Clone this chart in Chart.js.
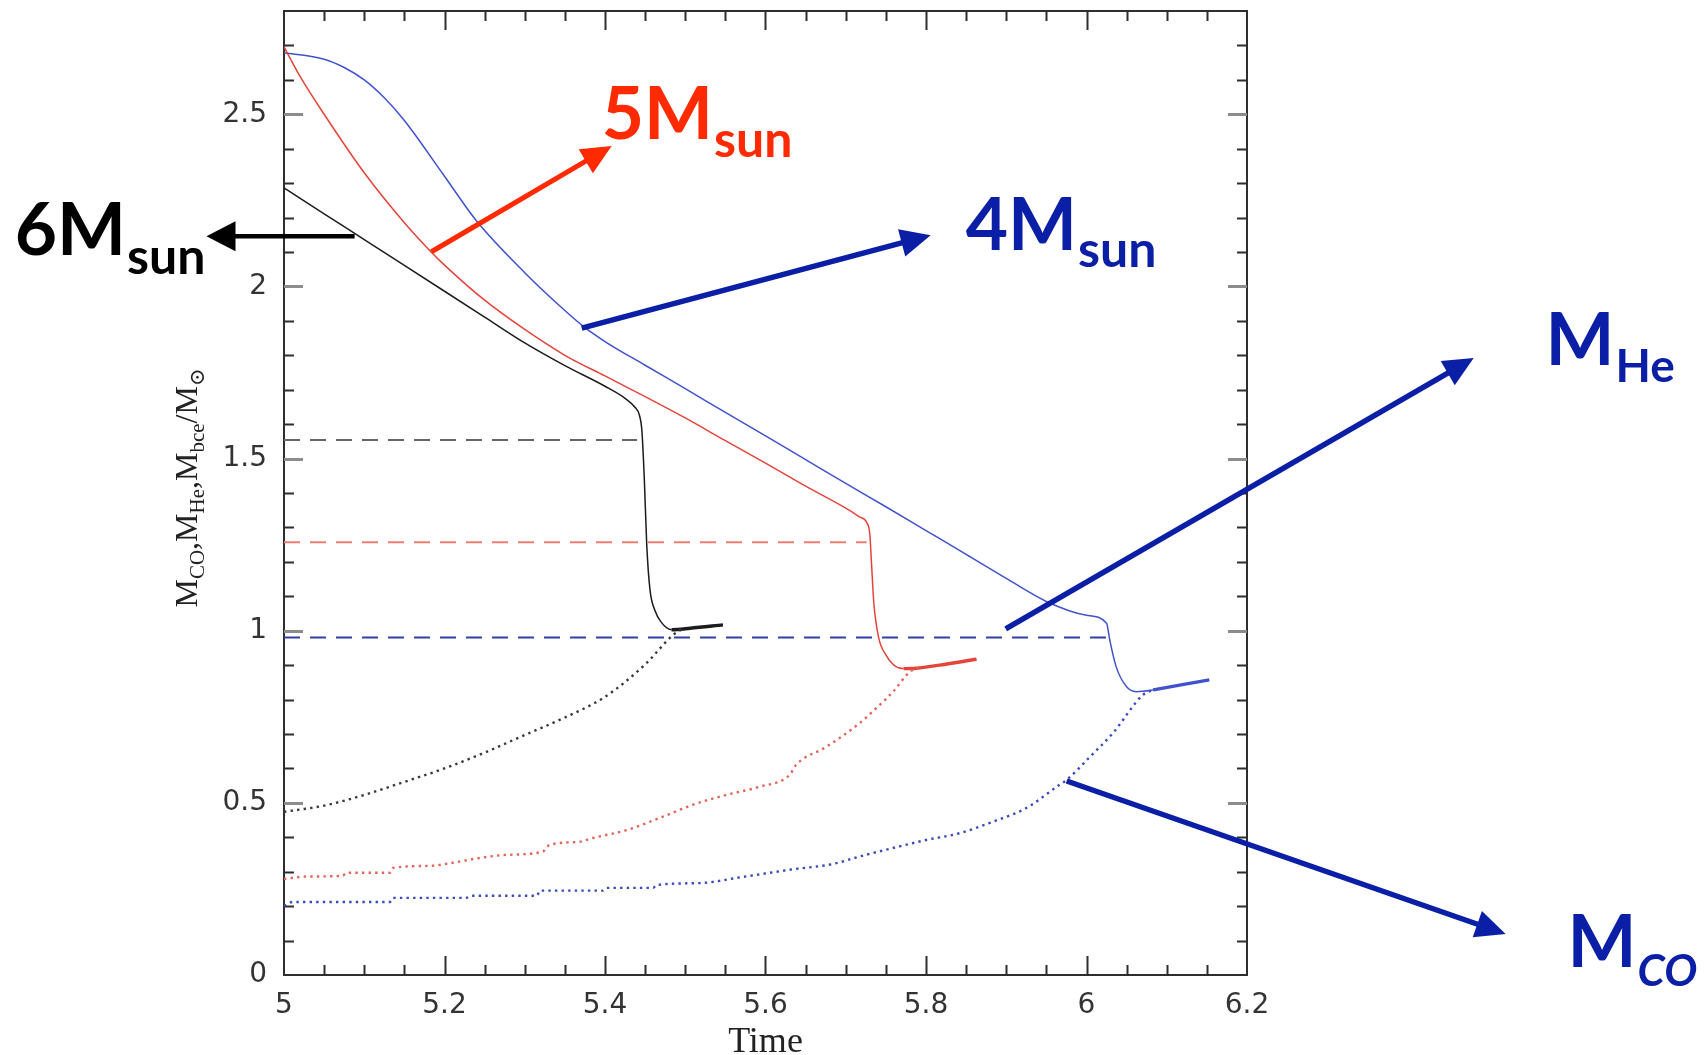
<!DOCTYPE html>
<html>
<head>
<meta charset="utf-8">
<title>Core masses vs time</title>
<style>
  html, body { margin: 0; padding: 0; background: #ffffff; }
  canvas { display: block; }
</style>
<script src="https://cdn.jsdelivr.net/npm/chart.js@4.4.1/dist/chart.umd.min.js"></script>
</head>
<body>
<canvas id="chart" width="1708" height="1055"></canvas>
<script>
// ---------- axis ticks ----------
const timeTicks = [5, 5.2, 5.4, 5.6, 5.8, 6, 6.2];
const timeTickLabels = ['5', '5.2', '5.4', '5.6', '5.8', '6', '6.2'];
const massTicks = [0, 0.5, 1, 1.5, 2, 2.5];
const massTickLabels = ['0', '0.5', '1', '1.5', '2', '2.5'];

// ---------- 6 Msun ----------
const bce6Time = [5.000, 5.050, 5.100, 5.150, 5.200, 5.250, 5.300, 5.350, 5.400, 5.425, 5.437, 5.443, 5.446, 5.449, 5.452, 5.456, 5.462, 5.470, 5.483, 5.506, 5.547];
const bce6Mass = [2.286, 2.211, 2.136, 2.061, 1.986, 1.911, 1.836, 1.770, 1.710, 1.675, 1.650, 1.625, 1.580, 1.440, 1.250, 1.120, 1.060, 1.025, 1.003, 1.007, 1.017];
const he6Time = [5.000, 5.440];
const he6Mass = [1.554, 1.554];
const co6Time = [5.000, 5.050, 5.100, 5.150, 5.200, 5.250, 5.300, 5.350, 5.400, 5.450, 5.485, 5.495];
const co6Mass = [0.474, 0.492, 0.523, 0.561, 0.600, 0.646, 0.697, 0.748, 0.808, 0.902, 0.988, 1.003];

// ---------- 5 Msun ----------
const bce5Time = [5.000, 5.020, 5.050, 5.100, 5.150, 5.183, 5.200, 5.250, 5.300, 5.350, 5.400, 5.450, 5.500, 5.550, 5.600, 5.650, 5.700, 5.717, 5.726, 5.730, 5.732, 5.735, 5.741, 5.750, 5.760, 5.772, 5.788, 5.817, 5.863];
const bce5Mass = [2.696, 2.610, 2.500, 2.330, 2.185, 2.101, 2.062, 1.960, 1.875, 1.800, 1.740, 1.680, 1.618, 1.552, 1.487, 1.420, 1.356, 1.331, 1.315, 1.280, 1.200, 1.080, 0.980, 0.930, 0.900, 0.890, 0.891, 0.900, 0.917];
const he5Time = [5.000, 5.726];
const he5Mass = [1.257, 1.257];
const co5Time = [5.000, 5.028, 5.073, 5.078, 5.132, 5.136, 5.182, 5.210, 5.244, 5.277, 5.322, 5.331, 5.368, 5.385, 5.427, 5.468, 5.509, 5.551, 5.593, 5.630, 5.638, 5.676, 5.717, 5.738, 5.759, 5.780, 5.790];
const co5Mass = [0.279, 0.286, 0.288, 0.297, 0.297, 0.311, 0.317, 0.326, 0.340, 0.349, 0.358, 0.378, 0.387, 0.398, 0.421, 0.456, 0.494, 0.523, 0.547, 0.581, 0.610, 0.663, 0.731, 0.775, 0.823, 0.881, 0.892];

// ---------- 4 Msun ----------
const bce4Time = [5.000, 5.050, 5.075, 5.100, 5.125, 5.150, 5.200, 5.240, 5.300, 5.350, 5.373, 5.400, 5.450, 5.500, 5.550, 5.600, 5.650, 5.700, 5.750, 5.800, 5.850, 5.900, 5.950, 6.000, 6.025, 6.029, 6.037, 6.050, 6.062, 6.083, 6.116, 6.153];
const bce4Mass = [2.679, 2.660, 2.636, 2.600, 2.548, 2.482, 2.320, 2.190, 2.040, 1.930, 1.884, 1.840, 1.771, 1.703, 1.634, 1.566, 1.497, 1.428, 1.360, 1.291, 1.222, 1.152, 1.085, 1.045, 1.022, 0.973, 0.895, 0.837, 0.823, 0.828, 0.842, 0.857];
const he4Time = [5.000, 6.025];
const he4Mass = [0.980, 0.980];
const co4Time = [5.000, 5.011, 5.132, 5.136, 5.227, 5.234, 5.315, 5.319, 5.397, 5.402, 5.460, 5.464, 5.518, 5.572, 5.634, 5.683, 5.717, 5.759, 5.800, 5.842, 5.883, 5.925, 5.966, 5.975, 6.004, 6.033, 6.070, 6.080];
const co4Mass = [0.201, 0.212, 0.212, 0.224, 0.224, 0.230, 0.230, 0.245, 0.245, 0.253, 0.253, 0.261, 0.267, 0.285, 0.307, 0.322, 0.344, 0.369, 0.392, 0.412, 0.445, 0.485, 0.552, 0.566, 0.633, 0.703, 0.813, 0.826];

const pts = (xs, ys) => xs.map((v, i) => ({ x: v, y: ys[i] }));

function solid(xs, ys, color, tailFrom) {
  return {
    data: pts(xs, ys), showLine: true, pointRadius: 0, borderColor: color,
    borderWidth: 1.5, cubicInterpolationMode: 'monotone',
    segment: { borderWidth: c => (c.p0.parsed.x >= tailFrom ? 3.4 : 1.5) }
  };
}
function dashed(xs, ys, color) {
  return { data: pts(xs, ys), showLine: true, pointRadius: 0, borderColor: color,
           borderWidth: 2, borderDash: [16, 10] };
}
function dotted(xs, ys, color) {
  return { data: pts(xs, ys), showLine: true, pointRadius: 0, borderColor: color,
           borderWidth: 2.4, borderDash: [2.4, 4.2], cubicInterpolationMode: 'monotone' };
}

const datasets = [
  dashed(he6Time, he6Mass, '#666666'),
  dashed(he5Time, he5Mass, '#ec7d74'),
  dashed(he4Time, he4Mass, '#2f3fa6'),
  dotted(co6Time, co6Mass, '#3a3a3a'),
  dotted(co5Time, co5Mass, '#e2655c'),
  dotted(co4Time, co4Mass, '#3a4bbb'),
  solid(bce6Time, bce6Mass, '#1c1c1c', 5.483),
  solid(bce5Time, bce5Mass, '#e3453b', 5.772),
  solid(bce4Time, bce4Mass, '#4152cc', 6.075)
];

// ---------- drawing helpers ----------
function arrow(ctx, x0, y0, x1, y1, color, w, headLen, headW) {
  const a = Math.atan2(y1 - y0, x1 - x0);
  const bx = x1 - headLen * Math.cos(a), by = y1 - headLen * Math.sin(a);
  ctx.strokeStyle = color; ctx.lineWidth = w; ctx.lineCap = 'butt';
  ctx.beginPath(); ctx.moveTo(x0, y0); ctx.lineTo(bx + Math.cos(a), by + Math.sin(a)); ctx.stroke();
  ctx.fillStyle = color;
  ctx.beginPath();
  ctx.moveTo(x1, y1);
  ctx.lineTo(bx + headW / 2 * Math.sin(a), by - headW / 2 * Math.cos(a));
  ctx.lineTo(bx - headW / 2 * Math.sin(a), by + headW / 2 * Math.cos(a));
  ctx.closePath(); ctx.fill();
}

function subLabel(ctx, x, y, main, sub, color, mainFont, subFont, drop) {
  ctx.fillStyle = color; ctx.textBaseline = 'alphabetic'; ctx.textAlign = 'left';
  ctx.font = mainFont; ctx.fillText(main, x, y);
  const w = ctx.measureText(main).width;
  ctx.font = subFont; ctx.fillText(sub, x + w + 1, y + drop);
}

const decor = {
  id: 'decor',
  beforeDatasetsDraw(chart) {
    const { ctx, chartArea: a, scales: { x, y } } = chart;
    ctx.save();
    // frame
    ctx.strokeStyle = '#2e2e2e'; ctx.lineWidth = 2;
    ctx.strokeRect(a.left, a.top, a.right - a.left, a.bottom - a.top);
    // x ticks, bottom and top
    for (let i = 1; i < 24; i++) {
      const v = 5 + i * 0.05;
      const px = Math.round(x.getPixelForValue(v)) + 0.5;
      const len = i % 4 === 0 ? 19 : 10;
      ctx.strokeStyle = '#2e2e2e'; ctx.lineWidth = 2;
      ctx.beginPath();
      ctx.moveTo(px, a.bottom); ctx.lineTo(px, a.bottom - len);
      ctx.moveTo(px, a.top); ctx.lineTo(px, a.top + len);
      ctx.stroke();
    }
    // y ticks, left and right
    for (let i = 1; i <= 27; i++) {
      const v = i * 0.1;
      const py = Math.round(y.getPixelForValue(v)) + 0.5;
      const major = i % 5 === 0;
      const len = major ? 19 : 10;
      ctx.strokeStyle = major ? '#8c8c8c' : '#2e2e2e';
      ctx.lineWidth = major ? 3 : 2;
      ctx.beginPath();
      ctx.moveTo(a.left, py); ctx.lineTo(a.left + len, py);
      ctx.moveTo(a.right, py); ctx.lineTo(a.right - len, py);
      ctx.stroke();
    }
    ctx.restore();
  },
  afterDraw(chart) {
    const { ctx, chartArea: a, scales: { x, y } } = chart;
    ctx.save();

    // x-axis title
    ctx.fillStyle = '#222'; ctx.font = '36px "Liberation Serif"';
    ctx.textAlign = 'center'; ctx.textBaseline = 'alphabetic';
    ctx.fillText('Time', (a.left + a.right) / 2, 1052);

    // y-axis title with subscripts
    const parts = [['M', 0], ['CO', 1], [',', 0], ['M', 0], ['He', 1], [',', 0], ['M', 0], ['bce', 1], ['/', 0], ['M', 0], ['\u2299', 1]];
    const mainF = '32px "Liberation Serif"', subF = '21px "Liberation Serif", "DejaVu Serif"';
    let total = 0;
    const widths = parts.map(([t, s]) => { ctx.font = s ? subF : mainF; const w = ctx.measureText(t).width; total += w; return w; });
    ctx.translate(a.left - 87, 488);
    ctx.rotate(-Math.PI / 2);
    ctx.textAlign = 'left';
    let cx = -total / 2;
    parts.forEach(([t, s], i) => {
      ctx.font = s ? subF : mainF;
      ctx.fillText(t, cx, s ? 7 : 0);
      cx += widths[i];
    });
    ctx.setTransform(1, 0, 0, 1, 0, 0);

    const X = v => x.getPixelForValue(v), Y = v => y.getPixelForValue(v);
    const big = 'bold 73px Lato', small = 'bold 50px Lato';
    const black = '#000000', red = '#ff2a00', blue = '#0a1fa6';

    // 6 Msun
    arrow(ctx, X(5.088), Y(2.146), X(4.9034), Y(2.146), black, 4.5, 29, 30);
    subLabel(ctx, X(4.6644), Y(2.0912), '6M', 'sun', black, big, small, 19);
    // 5 Msun
    arrow(ctx, X(5.1837), Y(2.1008), X(5.4083), Y(2.4078), red, 5, 30, 28);
    subLabel(ctx, X(5.3959), Y(2.4281), '5M', 'sun', red, big, small, 18);
    // 4 Msun
    arrow(ctx, X(5.371), Y(1.879), X(5.8058), Y(2.149), blue, 5.5, 30, 28);
    subLabel(ctx, X(5.8494), Y(2.1057), '4M', 'sun', blue, big, small, 17);
    // He core
    arrow(ctx, X(5.8993), Y(1.005), X(6.4825), Y(1.792), blue, 5.5, 30, 28);
    subLabel(ctx, X(6.5721), Y(1.7717), 'M', 'He', blue, big, 'bold 46px Lato', 17);
    // CO core
    arrow(ctx, X(5.9753), Y(0.5635), X(6.5223), Y(0.119), blue, 5.5, 30, 28);
    subLabel(ctx, X(6.5995), Y(0.0232), 'M', 'CO', blue, big, 'italic bold 44px Lato', 19);

    ctx.restore();
  }
};

new Chart(document.getElementById('chart').getContext('2d'), {
  type: 'scatter',
  data: { datasets },
  options: {
    responsive: false,
    animation: false,
    devicePixelRatio: 1,
    layout: { padding: { left: 150, right: 461, top: 11, bottom: 0 } },
    plugins: { legend: { display: false }, tooltip: { enabled: false } },
    scales: {
      x: {
        type: 'linear', min: 5, max: 6.2,
        grid: { display: false, drawTicks: false },
        border: { display: false },
        afterBuildTicks: s => { s.ticks = timeTicks.map(v => ({ value: v })); },
        afterFit: s => { s.height = 80; s.paddingLeft = 0; s.paddingRight = 0; },
        ticks: {
          autoSkip: false, maxRotation: 0, padding: 14, color: '#333',
          font: { family: 'DejaVu Sans', size: 28 },
          callback: (v, i) => timeTickLabels[i]
        }
      },
      y: {
        type: 'linear', min: 0, max: 2.8,
        grid: { display: false, drawTicks: false },
        border: { display: false },
        afterBuildTicks: s => { s.ticks = massTicks.map(v => ({ value: v })); },
        afterFit: s => { s.width = 134; s.paddingTop = 0; s.paddingBottom = 0; },
        ticks: {
          autoSkip: false, padding: 17, color: '#333',
          font: { family: 'DejaVu Sans', size: 28 },
          callback: (v, i) => massTickLabels[i]
        }
      }
    }
  },
  plugins: [decor]
});
</script>
</body>
</html>
